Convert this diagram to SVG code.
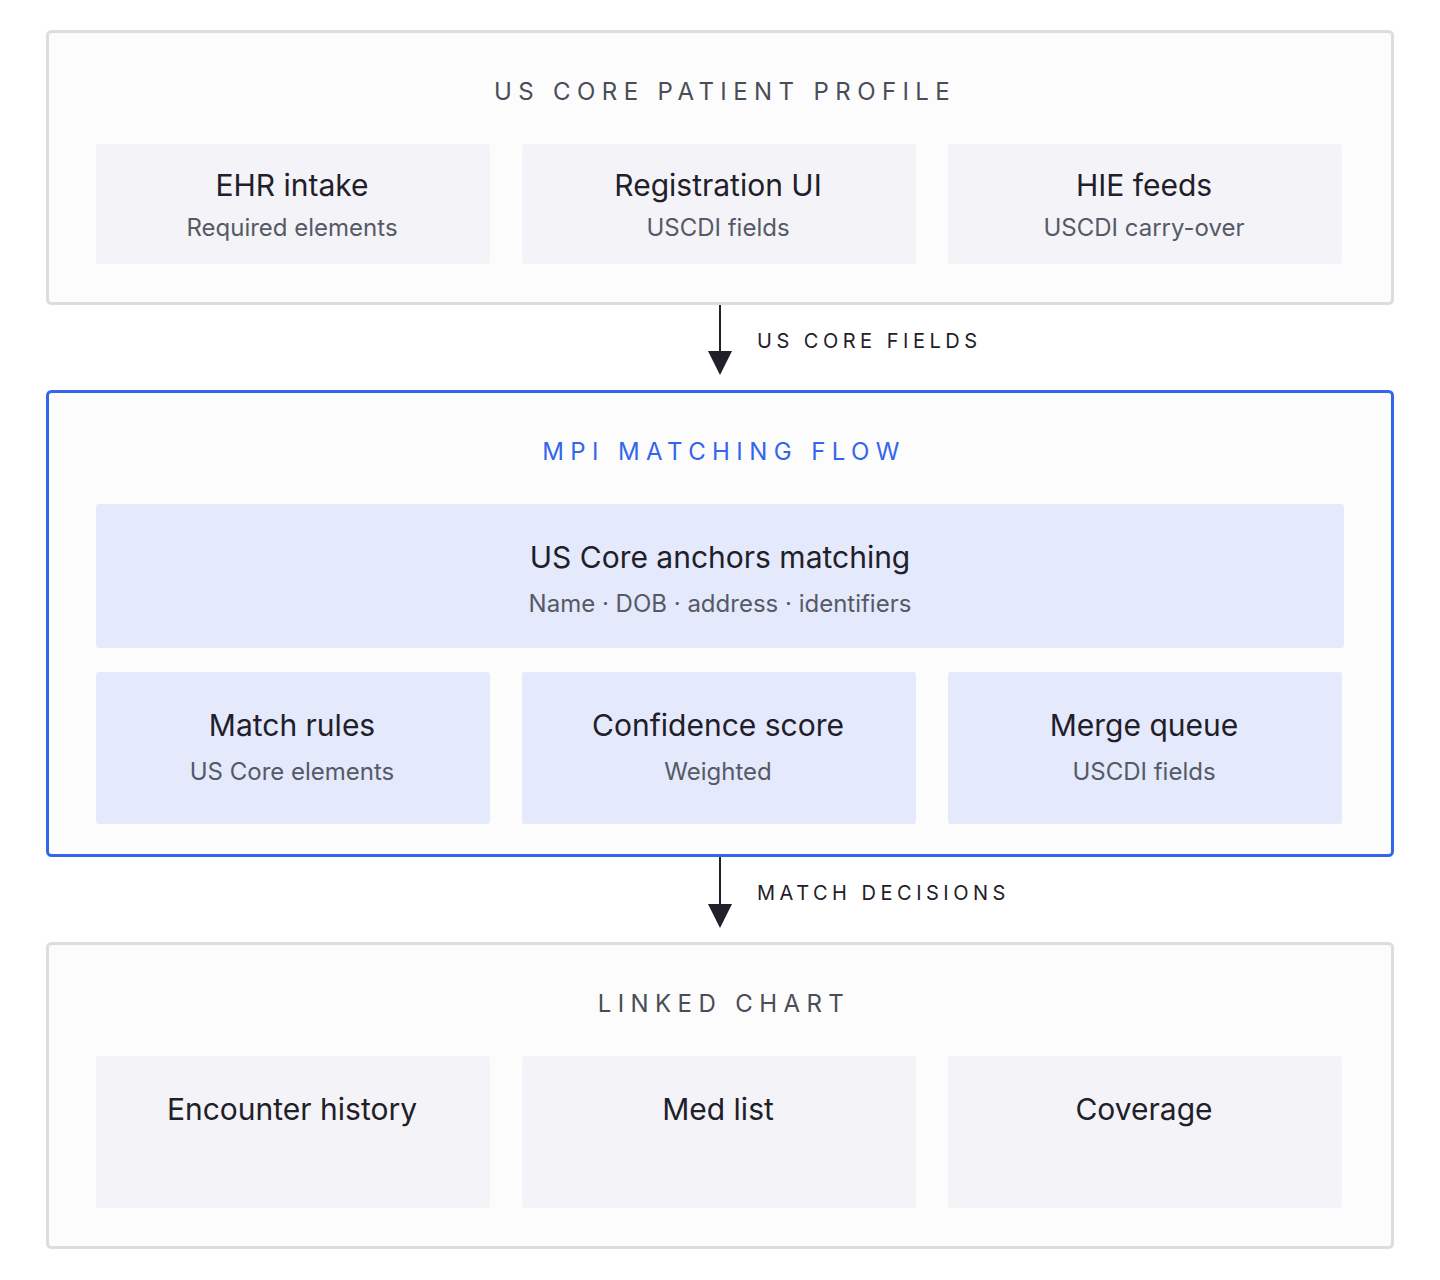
<svg xmlns="http://www.w3.org/2000/svg" width="1440" height="1280" viewBox="0 0 1440 1280">
<style>
.bg{fill:#ffffff}
.group{fill:#fcfcfd;stroke:#dcdce1;stroke-width:3}
.group.hl{stroke:#3366ea}
.card{fill:#f3f3f8}
.card.blue{fill:#e4e9fc}
.gt{font-family:Inter,"Noto Sans",sans-serif;font-size:24px;letter-spacing:6.4px;fill:#4a4d57;text-anchor:middle}
.gt.blue{fill:#3366ea}
.t{font-family:Inter,"Noto Sans",sans-serif;font-size:30px;fill:#1f2029;text-anchor:middle}
.s{font-family:Inter,"Noto Sans",sans-serif;font-size:24px;fill:#555a66;text-anchor:middle}
.el{font-family:Inter,"Noto Sans",sans-serif;font-size:20px;letter-spacing:4.5px;fill:#1f2029}
.ln{stroke:#1f2029;stroke-width:2;fill:none}
.ah{fill:#1f2029}
</style>
<rect class="bg" x="0" y="0" width="1440" height="1280"/>
<g id="us-core-patient-profile">
<rect class="group" x="47.5" y="31.5" width="1345" height="272" rx="4"/>
<text class="gt" x="725" y="100">US CORE PATIENT PROFILE</text>
</g>
<g id="ehr-intake"><rect class="card" x="96" y="144" width="394" height="120" rx="3"/><text class="t" x="292" y="196">EHR intake</text><text class="s" x="292" y="236">Required elements</text></g>
<g id="registration-ui"><rect class="card" x="522" y="144" width="394" height="120" rx="3"/><text class="t" x="718" y="196">Registration UI</text><text class="s" x="718" y="236">USCDI fields</text></g>
<g id="hie-feeds"><rect class="card" x="948" y="144" width="394" height="120" rx="3"/><text class="t" x="1144" y="196">HIE feeds</text><text class="s" x="1144" y="236">USCDI carry-over</text></g>

<g id="mpi-matching-flow">
<rect class="group hl" x="47.5" y="391.5" width="1345" height="464" rx="4"/>
<text class="gt blue" x="724" y="460">MPI MATCHING FLOW</text>
</g>
<g id="us-core-anchors"><rect class="card blue" x="96" y="504" width="1248" height="144" rx="3"/><text class="t" x="720" y="568">US Core anchors matching</text><text class="s" x="720" y="612">Name · DOB · address · identifiers</text></g>
<g id="match-rules"><rect class="card blue" x="96" y="672" width="394" height="152" rx="3"/><text class="t" x="292" y="736">Match rules</text><text class="s" x="292" y="780">US Core elements</text></g>
<g id="confidence-score"><rect class="card blue" x="522" y="672" width="394" height="152" rx="3"/><text class="t" x="718" y="736">Confidence score</text><text class="s" x="718" y="780">Weighted</text></g>
<g id="merge-queue"><rect class="card blue" x="948" y="672" width="394" height="152" rx="3"/><text class="t" x="1144" y="736">Merge queue</text><text class="s" x="1144" y="780">USCDI fields</text></g>

<g id="linked-chart">
<rect class="group" x="47.5" y="943.5" width="1345" height="304" rx="4"/>
<text class="gt" x="724" y="1012">LINKED CHART</text>
</g>
<g id="encounter-history"><rect class="card" x="96" y="1056" width="394" height="152" rx="3"/><text class="t" x="292" y="1120">Encounter history</text></g>
<g id="med-list"><rect class="card" x="522" y="1056" width="394" height="152" rx="3"/><text class="t" x="718" y="1120">Med list</text></g>
<g id="coverage"><rect class="card" x="948" y="1056" width="394" height="152" rx="3"/><text class="t" x="1144" y="1120">Coverage</text></g>

<g id="connectors">
<line class="ln" x1="720" y1="305" x2="720" y2="352"/>
<polygon class="ah" points="708,351 732,351 720,375"/>
<text class="el" x="757" y="348">US CORE FIELDS</text>
<line class="ln" x1="720" y1="857" x2="720" y2="905"/>
<polygon class="ah" points="708,904 732,904 720,928"/>
<text class="el" x="757" y="900">MATCH DECISIONS</text>
</g>
</svg>
